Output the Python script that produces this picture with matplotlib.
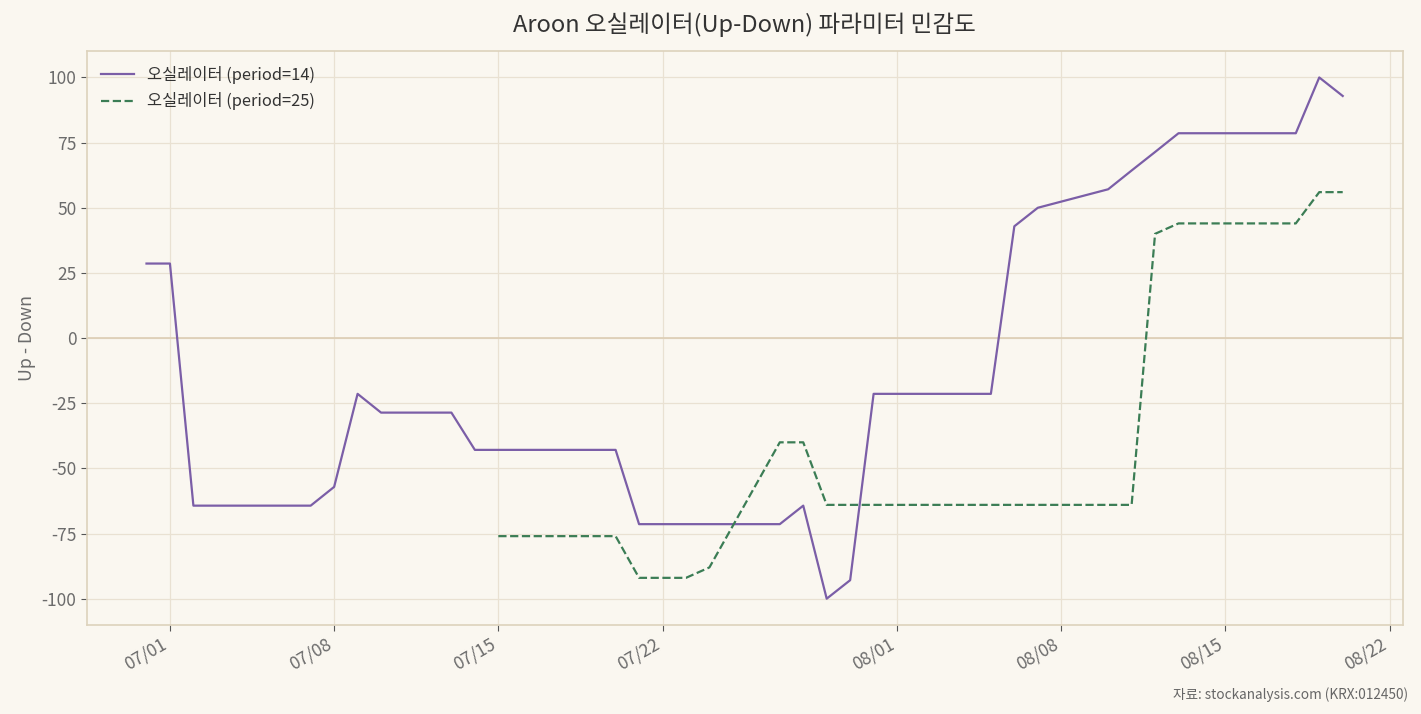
import matplotlib
matplotlib.use('Agg')
import matplotlib.pyplot as plt
import matplotlib.dates as mdates
import numpy as np
import pandas as pd

plt.rcParams['font.family'] = ['Noto Sans CJK KR', 'DejaVu Sans']
plt.rcParams['axes.unicode_minus'] = False

# ── Data (trading days, Aroon oscillator = Up - Down) ──
DATES = ["2026-06-30", "2026-07-01", "2026-07-02", "2026-07-03",
         "2026-07-06", "2026-07-07", "2026-07-08", "2026-07-09", "2026-07-10",
         "2026-07-13", "2026-07-14", "2026-07-15", "2026-07-16", "2026-07-17",
         "2026-07-20", "2026-07-21", "2026-07-22", "2026-07-23", "2026-07-24",
         "2026-07-27", "2026-07-28", "2026-07-29", "2026-07-30", "2026-07-31",
         "2026-08-03", "2026-08-04", "2026-08-05", "2026-08-06", "2026-08-07",
         "2026-08-10", "2026-08-11", "2026-08-12", "2026-08-13", "2026-08-14",
         "2026-08-17", "2026-08-18", "2026-08-19", "2026-08-20"]

OSC_14 = [28.6, 28.6, -64.3, -64.3,
          -64.3, -64.3, -57.1, -21.4, -28.6,
          -28.6, -42.9, -42.9, -42.9, -42.9,
          -42.9, -71.4, -71.4, -71.4, -71.4,
          -71.4, -64.3, -100.0, -92.9, -21.4,
          -21.4, -21.4, -21.4, 42.9, 50.0,
          57.1, 64.3, 71.4, 78.6, 78.6,
          78.6, 78.6, 100.0, 92.9]

OSC_25 = [np.nan, np.nan, np.nan, np.nan,
          np.nan, np.nan, np.nan, np.nan, np.nan,
          np.nan, np.nan, -76, -76, -76,
          -76, -92, -92, -92, -88,
          -40, -40, -64, -64, -64,
          -64, -64, -64, -64, -64,
          -64, -64, 40, 44, 44,
          44, 44, 56, 56]

dates = pd.to_datetime(DATES)

BG = '#FAF7F0'
GRID = '#E9E1D2'
SPINE = '#DDD2BC'
PURPLE = '#7B5EA7'
GREEN = '#3B7D55'

fig, ax = plt.subplots(figsize=(14.21, 7.14), dpi=100)
fig.patch.set_facecolor(BG)
ax.set_facecolor(BG)

ax.plot(dates, OSC_14, '-', color=PURPLE, lw=1.6, label="오실레이터 (period=14)")
ax.plot(dates, OSC_25, '--', color=GREEN, lw=1.6, label="오실레이터 (period=25)")
ax.axhline(0, color='#DCCDB4', lw=1.2, zorder=1)

ax.set_ylim(-110, 110)
ax.set_yticks([-100, -75, -50, -25, 0, 25, 50, 75, 100])
ax.xaxis.set_major_locator(mdates.DayLocator(bymonthday=[1, 8, 15, 22]))
ax.xaxis.set_major_formatter(mdates.DateFormatter('%m/%d'))
for lbl in ax.get_xticklabels():
    lbl.set_rotation(30)
    lbl.set_ha('right')

ax.grid(True, color=GRID, lw=0.9)
ax.set_axisbelow(True)
for s in ax.spines.values():
    s.set_color(SPINE)
    s.set_linewidth(1.2)
ax.tick_params(colors='#555555', labelsize=12.5, length=4, labelcolor='#6b6b6b')

ax.set_ylabel("Up - Down", fontsize=12.8, color='#6b6b6b')
ax.set_title("Aroon 오실레이터(Up-Down) 파라미터 민감도", fontsize=17, color='#333333', pad=14)

leg = ax.legend(loc='upper left', frameon=False, fontsize=11.8)
for t in leg.get_texts():
    t.set_color('#333333')

fig.text(0.991, 0.017, "자료: stockanalysis.com (KRX:012450)", ha='right', va='bottom',
         fontsize=9.8, color='#666666')

fig.subplots_adjust(left=0.061, right=0.987, top=0.928, bottom=0.125)
fig.savefig("out.png", dpi=100, facecolor=BG)
